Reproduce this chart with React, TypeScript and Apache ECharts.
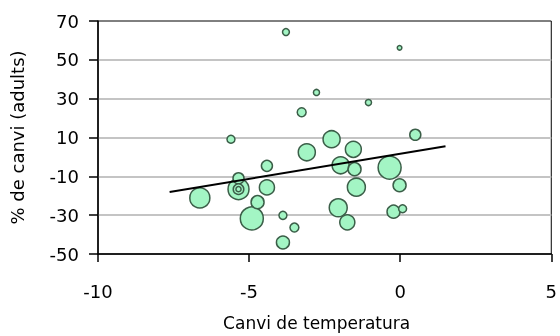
import React, { useEffect, useRef } from "react";
import * as echarts from "echarts";

const xTemp = [-3.78, -0.02, -2.77, -1.05, -3.26, -5.6, -2.27, 0.5, -3.09, -1.55, -1.97, -1.51, -0.35, -4.41, -5.35, -5.35, -5.35, -5.35, -4.41, -6.63, -4.72, -4.91, -1.45, -0.02, -2.05, -1.75, -0.22, 0.08, -3.88, -3.5, -3.88];
const yChange = [64.3, 56.2, 33.2, 28.0, 23.0, 9.1, 9.1, 11.4, 2.4, 3.9, -4.3, -6.3, -5.5, -4.6, -11.0, -16.6, -16.6, -16.6, -15.7, -21.1, -23.3, -31.7, -15.6, -14.6, -26.2, -33.7, -28.2, -26.7, -30.1, -36.4, -44.1];
const bubbleValue = [9, 4, 7, 7, 15, 12, 55, 23, 55, 48, 55, 32, 100, 23, 23, 83, 21, 5, 43, 76, 32, 100, 61, 32, 61, 43, 32, 12, 12, 15, 32];
const trendX = [-7.63, 1.5];
const trendY = [-18.1, 5.5];
const xTicks = [-10, -5, 0, 5];
const yTicks = [-50, -30, -10, 10, 30, 50, 70];

const FONT = "DejaVu Sans";

export default function App() {
  const ref = useRef<HTMLDivElement>(null);
  useEffect(() => {
    if (!ref.current) return;
    const chart = echarts.init(ref.current, undefined, { renderer: "svg" });
    const pts = xTemp.map((x, i) => [x, yChange[i], bubbleValue[i]]);
    pts.sort((a, b) => b[2] - a[2]);
    const maxV = Math.max(...bubbleValue);
    chart.setOption({
      animation: false,
      grid: {
        left: 92,
        top: 21,
        right: 5,
        bottom: 77,
        show: true,
        borderColor: "#000",
        borderWidth: 1,
        backgroundColor: "transparent",
      },
      xAxis: {
        type: "value",
        min: xTicks[0],
        max: xTicks[xTicks.length - 1],
        interval: 5,
        name: "Canvi de temperatura",
        nameLocation: "middle",
        nameGap: 60,
        nameTextStyle: { fontFamily: FONT, fontSize: 17, color: "#000", padding: [0, 16, 0, 0] },
        axisLine: { show: true, onZero: false, lineStyle: { color: "#000", width: 1.5 } },
        axisTick: { show: true, inside: false, length: 8, lineStyle: { color: "#000", width: 1.5 } },
        axisLabel: { fontFamily: FONT, fontSize: 18, color: "#000", margin: 28 },
        splitLine: { show: false },
      },
      yAxis: {
        type: "value",
        min: yTicks[0],
        max: yTicks[yTicks.length - 1],
        interval: 20,
        name: "% de canvi (adults)",
        nameLocation: "middle",
        nameGap: 72,
        nameRotate: 90,
        nameTextStyle: { fontFamily: FONT, fontSize: 18, color: "#000" },
        axisLine: { show: true, onZero: false, lineStyle: { color: "#000", width: 1.5 } },
        axisTick: { show: true, inside: false, length: 9, lineStyle: { color: "#000", width: 1.5 } },
        axisLabel: { fontFamily: FONT, fontSize: 18, color: "#000", margin: 19 },
        splitLine: {
          show: true,
          showMinLine: false,
          showMaxLine: false,
          lineStyle: { color: "#c4c4c4", width: 2 },
        },
      },
      series: [
        {
          type: "scatter",
          data: pts,
          symbol: "circle",
          symbolSize: (d: number[]) => 23 * Math.sqrt(d[2] / maxV),
          itemStyle: {
            color: "#a3f5c4",
            borderColor: "#3b5e48",
            borderWidth: 1.5,
            opacity: 1,
          },
          z: 2,
        },
        {
          type: "line",
          data: trendX.map((x, i) => [x, trendY[i]]),
          symbol: "none",
          lineStyle: { color: "#000", width: 2 },
          z: 3,
        },
      ],
    });
    return () => chart.dispose();
  }, []);
  return (
    <div
      ref={ref}
      style={{ position: "fixed", left: 0, top: 0, width: 560, height: 336 }}
    />
  );
}
